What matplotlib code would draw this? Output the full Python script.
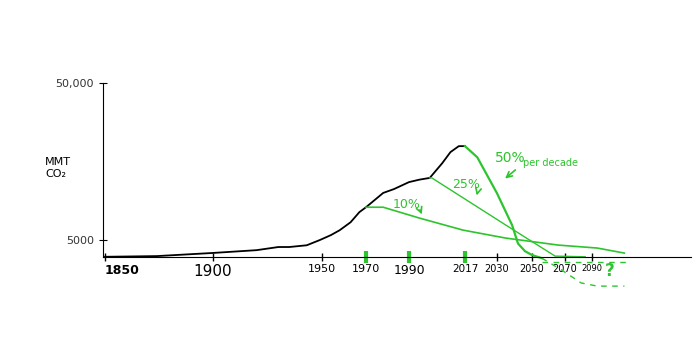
import numpy as np
import matplotlib.pyplot as plt

# historic emissions (black)
hist_years = [1850, 1874, 1900, 1920, 1930, 1935, 1943, 1949, 1954, 1958, 1963, 1967, 1970,
              1978, 1983, 1990, 1995, 2000, 2006, 2010, 2014, 2017]
hist_vals = [200, 400, 1300, 2100, 3000, 3000, 3500, 5000, 6400, 7800, 10100, 13000, 14400,
             18500, 19600, 21600, 22300, 22800, 27000, 30200, 31900, 31900]

# reduction pathways (green)
p10_years = [1970, 1978, 1995, 2016, 2035, 2066, 2094, 2114]
p10_vals = [14400, 14400, 11300, 7850, 5560, 3550, 2700, 1260]
p25_years = [2000, 2001, 2035, 2064, 2085]
p25_vals = [22800, 22800, 9300, 400, 200]
p50_years = [2017, 2022, 2030, 2038.6, 2042, 2046, 2050, 2056]
p50_vals = [31900, 28700, 18400, 9300, 4000, 1800, 700, -200]

# the "?" dashed futures
dash_a_years = [2056, 2068, 2082, 2094, 2114]
dash_a_vals = [-200, -3600, -7300, -8200, -8200]
dash_b_years = [2056, 2115]
dash_b_vals = [-1300, -1300]

tick_years = [1850, 1900, 1950, 1970, 1990, 2017, 2030, 2050, 2070, 2090]
tick_labels = ['1850', '1900', '1950', '1970', '1990', '2017', '2030', '2050', '2070', '2090']
green_ticks = [1970, 1990, 2017]

GREEN = '#2dc42d'

# hand sketched x axis is not evenly spaced
knot_years = [1800, 1850, 1900, 1950, 1970, 1990, 2017, 2030, 2050, 2070, 2090, 2200]
knot_pos = [-3.5, 105, 213, 322, 366, 409, 465, 497, 532, 565, 592, 740.5]


def fwd(x):
    return np.interp(x, knot_years, knot_pos)


def inv(p):
    return np.interp(p, knot_pos, knot_years)


fig = plt.figure(figsize=(7, 3.53), dpi=100)
ax = fig.add_axes([0.1469, 0.1717, 0.8396, 0.613])
ax.set_xscale('function', functions=(fwd, inv))
ax.set_xlim(1849, 2163)
ax.set_ylim(-10000, 52000)

ax.plot(hist_years, hist_vals, c='black', lw=1.3)
ax.plot(p10_years, p10_vals, c=GREEN, lw=1.2)
ax.plot(p25_years, p25_vals, c=GREEN, lw=1.0)
ax.plot(p50_years, p50_vals, c=GREEN, lw=1.6)
ax.plot(dash_a_years, dash_a_vals, c=GREEN, lw=1.0, ls=(0, (4, 4)))
ax.plot(dash_b_years, dash_b_vals, c=GREEN, lw=1.0, ls=(0, (4, 4)))

ax.text(2037.4, 28500, '50%', color=GREEN, fontsize=10, ha='center', va='center')
ax.text(2044.9, 27000, 'per decade', color=GREEN, fontsize=7, ha='left', va='center')
ax.text(2017.5, 21000, '25%', color=GREEN, fontsize=9, ha='center', va='center')
ax.text(1989, 15300, '10%', color=GREEN, fontsize=9, ha='center', va='center')
ax.text(2103, -4000, '?', color=GREEN, fontsize=12, fontweight='bold', ha='center', va='center')
arrow = dict(arrowstyle='->', color=GREEN, lw=1.2)
ax.annotate('', xy=(2033.4, 22100), xytext=(2041.7, 25600), arrowprops=arrow)
ax.annotate('', xy=(2021.5, 17000), xytext=(2022.3, 19300), arrowprops=arrow)
ax.annotate('', xy=(1996.7, 11600), xytext=(1994.8, 14400), arrowprops=arrow)

for s in ['top', 'right']:
    ax.spines[s].set_visible(False)
ax.spines['bottom'].set_position(('data', 0))
ax.spines['left'].set_bounds(0, 50000)

ax.set_xticks(tick_years, tick_labels)
ax.tick_params(axis='x', direction='inout', length=6, width=1, pad=2)
sizes = [9, 11, 8, 8, 9, 7.5, 7, 7, 7, 6]
for lbl, sz in zip(ax.get_xticklabels(), sizes):
    lbl.set_fontsize(sz)
ax.get_xticklabels()[0].set_fontweight('bold')
ax.get_xticklabels()[0].set_ha('left')
for t, yr in zip(ax.xaxis.get_major_ticks(), tick_years):
    if yr in green_ticks:
        t.tick1line.set_markeredgecolor(GREEN)
        t.tick1line.set_markeredgewidth(3)
        t.tick1line.set_markersize(8)

ax.set_yticks([5000, 50000], ['5000', '50,000'])
ax.tick_params(axis='y', direction='inout', length=6, labelsize=8, labelcolor='#333333')

fig.text(45 / 700, 1 - 168 / 353, 'MMT\nCO₂', fontsize=8, va='center', ha='left')

plt.savefig('out.png')
